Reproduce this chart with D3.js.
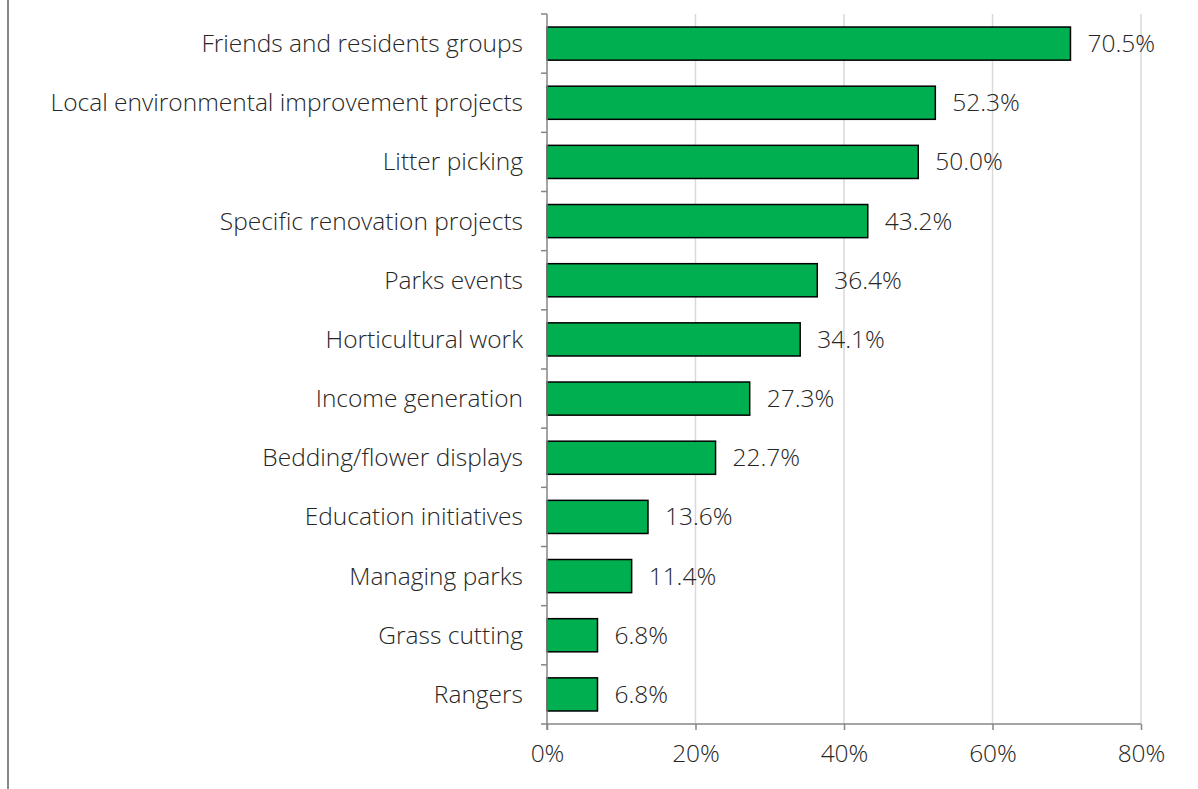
<!DOCTYPE html>
<html lang="en">
<head>
<meta charset="utf-8">
<title>Volunteer activities</title>
<script src="https://d3js.org/d3.v7.min.js"></script>
<style>
  body { margin: 0; padding: 0; background: #fff; }
  svg text { font-family: 'Open Sans', sans-serif; font-weight: 300; fill: #262626; }
  .grid line { stroke: #d9d9d9; stroke-width: 1.5px; }
  .axis path, .axis line { stroke: #868686; stroke-width: 1.5px; fill: none; }
</style>
</head>
<body>
<script>
// data
var categories = ["Friends and residents groups", "Local environmental improvement projects",
  "Litter picking", "Specific renovation projects", "Parks events", "Horticultural work",
  "Income generation", "Bedding/flower displays", "Education initiatives",
  "Managing parks", "Grass cutting", "Rangers"];
var values = [70.5, 52.3, 50.0, 43.2, 36.4, 34.1, 27.3, 22.7, 13.6, 11.4, 6.8, 6.8];
var xTicks = [0, 20, 40, 60, 80];

var width = 1198, height = 789;
var margin = {top: 14, right: 57, bottom: 65, left: 547};
var fontSize = "24.5px";

var svg = d3.select("body").append("svg")
    .attr("width", width)
    .attr("height", height);

// left frame line
svg.append("line")
    .attr("x1", 8).attr("x2", 8)
    .attr("y1", 0).attr("y2", height)
    .attr("stroke", "#888").attr("stroke-width", 2);

var x = d3.scaleLinear().domain([0, 80]).range([margin.left, width - margin.right]);
var y = d3.scaleBand().domain(categories)
    .range([margin.top, height - margin.bottom])
    .paddingInner(0.44).paddingOuter(0.22);

// gridlines
svg.append("g").attr("class", "grid")
  .selectAll("line")
  .data(xTicks.slice(1))
  .enter().append("line")
    .attr("x1", function(d) { return x(d); })
    .attr("x2", function(d) { return x(d); })
    .attr("y1", margin.top)
    .attr("y2", height - margin.bottom);

// bars
svg.append("g").selectAll("rect")
    .data(values)
    .enter().append("rect")
    .attr("x", x(0))
    .attr("y", function(d, i) { return y(categories[i]); })
    .attr("width", function(d) { return x(d) - x(0); })
    .attr("height", y.bandwidth())
    .attr("fill", "#00b050")
    .attr("stroke", "#000")
    .attr("stroke-width", 1.5);

// value labels
svg.append("g").selectAll("text")
    .data(values)
    .enter().append("text")
    .attr("x", function(d) { return x(d) + 17; })
    .attr("y", function(d, i) { return y(categories[i]) + y.bandwidth() / 2; })
    .attr("dy", "0.35em")
    .style("font-size", fontSize)
    .text(function(d) { return d.toFixed(1) + "%"; });

// x axis
var xAxis = svg.append("g").attr("class", "axis")
    .attr("transform", "translate(0," + (height - margin.bottom) + ")")
    .call(d3.axisBottom(x).tickValues(xTicks).tickSize(6).tickSizeOuter(6)
      .tickFormat(function(d) { return d + "%"; }));
xAxis.select(".domain").remove();
xAxis.append("line")
    .attr("x1", x(0)).attr("x2", x(80));
xAxis.selectAll("text")
    .style("font-size", fontSize)
    .style("font-family", "'Open Sans', sans-serif")
    .style("font-weight", 300)
    .attr("y", 16).attr("dy", "0.9em")
    .style("fill", "#262626");

// y axis with ticks at band boundaries
var yAxisG = svg.append("g").attr("class", "axis");
yAxisG.append("line")
    .attr("x1", x(0)).attr("x2", x(0))
    .attr("y1", margin.top).attr("y2", height - margin.bottom + 6);
var step = y.step();
var bounds = d3.range(categories.length + 1).map(function(i) {
  return margin.top + i * step;
});
yAxisG.selectAll(".tk").data(bounds).enter().append("line")
    .attr("class", "tk")
    .attr("x1", x(0) - 6).attr("x2", x(0))
    .attr("y1", function(d) { return d; })
    .attr("y2", function(d) { return d; });

// category labels
svg.append("g").selectAll("text")
    .data(categories)
    .enter().append("text")
    .attr("x", x(0) - 24)
    .attr("y", function(d) { return y(d) + y.bandwidth() / 2; })
    .attr("dy", "0.35em")
    .attr("text-anchor", "end")
    .style("font-size", fontSize)
    .text(function(d) { return d; });
</script>
</body>
</html>
